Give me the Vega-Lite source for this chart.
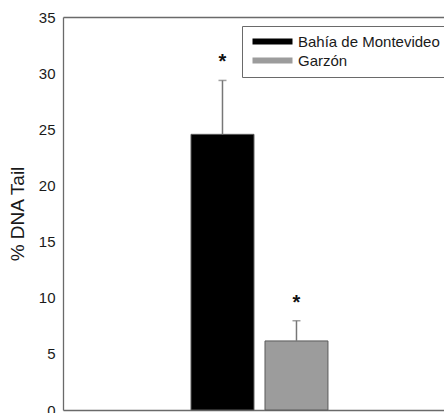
{
  "$schema": "https://vega.github.io/schema/vega-lite/v6.json",
  "autosize": {"type": "none"},
  "padding": {"left": 63, "top": 17, "right": 0, "bottom": 3},
  "width": 381,
  "height": 393,
  "background": "white",
  "config": {
    "view": {"stroke": null},
    "font": "Liberation Sans",
    "axis": {"domainColor": "#6a6a6a", "domainWidth": 1.3}
  },
  "data": {
    "values": [
      {"site": "Bahía de Montevideo", "mean": 24.55, "upper": 29.35, "sig": "*"},
      {"site": "Garzón", "mean": 6.15, "upper": 7.95, "sig": "*"}
    ]
  },
  "resolve": {"axis": {"x": "independent"}},
  "layer": [
    {
      "mark": {"type": "bar", "stroke": "#5a5a5a", "strokeWidth": 1},
      "encoding": {
        "x": {
          "field": "site", "type": "nominal", "sort": null,
          "scale": {"domain": ["_left", "Bahía de Montevideo", "Garzón", "_right"], "paddingInner": 0.149, "paddingOuter": 0.649, "align": 0.5623},
          "axis": {"orient": "bottom", "labels": false, "ticks": false, "title": null}
        },
        "y": {
          "field": "mean",
          "type": "quantitative",
          "scale": {"domain": [0, 35], "nice": false},
          "axis": {
            "values": [0, 5, 10, 15, 20, 25, 30, 35],
            "grid": false,
            "ticks": false,
            "labelPadding": 8,
            "labelFontSize": 15,
            "labelColor": "#1a1a1a",
            "title": "% DNA Tail",
            "titleFontSize": 19,
            "titleFontWeight": "normal",
            "titleColor": "#1a1a1a",
            "titlePadding": 11
          }
        },
        "fill": {
          "field": "site",
          "type": "nominal",
          "scale": {"domain": ["Bahía de Montevideo", "Garzón"], "range": ["#000000", "#9c9c9c"]},
          "legend": {
            "title": null,
            "orient": "none",
            "legendX": 179,
            "legendY": 9,
            "padding": 8,
            "strokeColor": "#6a6a6a",
            "fillColor": "white",
            "symbolType": "M-1,-0.6H7V0.6H-1Z",
            "symbolSize": 100,
            "symbolStrokeWidth": 0,
            "labelFontSize": 15,
            "labelColor": "#1a1a1a",
            "labelOffset": 33,
            "rowPadding": 3,
            "labelExpr": "datum.label + '                    '"
          }
        }
      }
    },
    {
      "mark": {"type": "rule", "color": "#777777", "strokeWidth": 1.5},
      "encoding": {
        "x": {
          "field": "site", "type": "nominal", "sort": null,
          "scale": {"domain": ["_left", "Bahía de Montevideo", "Garzón", "_right"], "paddingInner": 0.149, "paddingOuter": 0.649, "align": 0.5623},
          "axis": {"orient": "top", "labels": false, "ticks": false, "title": null}
        },
        "y": {"field": "mean", "type": "quantitative"},
        "y2": {"field": "upper"}
      }
    },
    {
      "mark": {"type": "tick", "color": "#777777", "thickness": 1.5},
      "encoding": {
        "x": {
          "field": "site", "type": "nominal", "sort": null,
          "scale": {"domain": ["_left", "Bahía de Montevideo", "Garzón", "_right"], "paddingInner": 0.149, "paddingOuter": 0.649, "align": 0.5623},
          "axis": null
        },
        "y": {"field": "upper", "type": "quantitative"},
        "size": {"value": 8}
      }
    },
    {
      "mark": {"type": "text", "fontSize": 20, "fontWeight": "bold", "dy": -12, "baseline": "alphabetic", "color": "#111111"},
      "encoding": {
        "x": {
          "field": "site", "type": "nominal", "sort": null,
          "scale": {"domain": ["_left", "Bahía de Montevideo", "Garzón", "_right"], "paddingInner": 0.149, "paddingOuter": 0.649, "align": 0.5623},
          "axis": null
        },
        "y": {"field": "upper", "type": "quantitative"},
        "text": {"field": "sig"}
      }
    }
  ]
}
